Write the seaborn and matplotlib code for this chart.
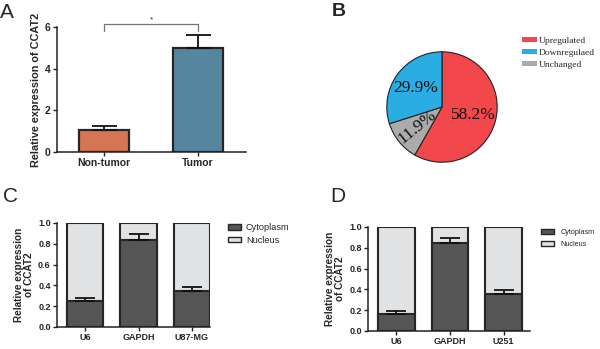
import numpy as np
import pandas as pd
import matplotlib
matplotlib.use("Agg")
import matplotlib.pyplot as plt
import seaborn as sns
from matplotlib.patches import Patch

sns.set_theme(style="ticks")
plt.rcParams['font.family'] = ['Liberation Sans', 'DejaVu Sans']

# ---- data ----
a_groups = ["Non-tumor", "Tumor"]
a_values = [1.08, 5.0]
a_errors = [0.15, 0.6]
a_colors = ["#EC6A3E", "#4A88AB"]

b_labels = ["Upregulated", "Unchanged", "Downregulaed"]
b_values = [58.2, 11.9, 29.9]
b_colors = ["#F2474B", "#ABABAB", "#29ADE3"]
b_legend_order = ["Upregulated", "Downregulaed", "Unchanged"]

c_groups = ["U6", "GAPDH", "U87-MG"]
c_cyto = [0.25, 0.84, 0.345]
c_err = [0.03, 0.05, 0.035]

d_groups = ["U6", "GAPDH", "U251"]
d_cyto = [0.165, 0.85, 0.355]
d_err = [0.025, 0.045, 0.04]

EDGE = "#2a2424"
CYTO = "#555555"
NUC = "#E1E2E4"

fig = plt.figure(figsize=(6.0, 3.49), dpi=100)
W, H = 600, 349


def px_axes(x0, y0, x1, y1):
    return fig.add_axes([x0 / W, 1 - y1 / H, (x1 - x0) / W, (y1 - y0) / H])


def style_axes(ax, tick_size):
    sns.despine(ax=ax)
    for s in ["left", "bottom"]:
        ax.spines[s].set_linewidth(1.1)
        ax.spines[s].set_color("#222222")
    ax.tick_params(axis="both", width=1.0, length=3, color="#222222",
                   labelsize=tick_size, pad=1.5)
    for lab in ax.get_xticklabels() + ax.get_yticklabels():
        lab.set_fontweight("bold")
    ax.set_xlabel("")


# ---- Panel A ----
axA = px_axes(57, 27, 246, 152)
dfA = pd.DataFrame({"group": a_groups, "value": a_values})
sns.barplot(data=dfA, x="group", y="value", hue="group", palette=a_colors,
            order=a_groups, width=0.53, edgecolor=EDGE, linewidth=1.6,
            legend=False, ax=axA, errorbar=None)
for i, (v, e) in enumerate(zip(a_values, a_errors)):
    axA.errorbar(i, v, yerr=[[0], [e]], fmt="none", ecolor="#111111",
                 elinewidth=1.3, capsize=9, capthick=1.3)
axA.set_ylim(0, 6)
axA.set_yticks([0, 2, 4, 6])
axA.set_xlim(-0.5, 1.51)
axA.set_ylabel("Relative expression of CCAT2", fontsize=7.8,
               fontweight="bold", labelpad=3)
style_axes(axA, 7.5)
# significance bracket
axA.plot([0, 0, 1, 1], [5.8, 6.14, 6.14, 5.8], color="#777777", lw=0.9,
         clip_on=False)
axA.text(0.5, 6.18, "*", ha="center", va="bottom", fontsize=6, color="#333333")
fig.text(0 / W, 1 - 3 / H, "A", fontsize=15, va="top", ha="left")

# ---- Panel B ----
axB = px_axes(373, 38, 511, 176)
wedges, texts, autotexts = axB.pie(
    b_values, colors=b_colors, startangle=90, counterclock=False,
    autopct="%.1f%%", pctdistance=0.58,
    wedgeprops=dict(edgecolor="#222222", linewidth=0.8),
    textprops=dict(fontsize=12.5, family=["Liberation Serif", "DejaVu Serif"],
                   color="#111111"))
axB.set_aspect("equal")
for w, t in zip(wedges, autotexts):
    if w.theta2 - w.theta1 < 60:
        mid = (w.theta1 + w.theta2) / 2.0
        t.set_rotation(mid + 180)
        t.set_rotation_mode("anchor")
        t.set_ha("center")
        t.set_va("center")
handles = [Patch(facecolor=b_colors[b_labels.index(n)], edgecolor="none")
           for n in b_legend_order]
fig.legend(handles, b_legend_order, loc="upper left",
           bbox_to_anchor=(522 / W, 1 - 37 / H), frameon=False,
           prop=dict(family=["Liberation Serif", "DejaVu Serif"], size=6.8),
           handlelength=1.6, handleheight=0.45, handletextpad=0.2,
           labelspacing=0.4, borderaxespad=0, borderpad=0)
fig.text(332 / W, 1 - 3 / H, "B", fontsize=14, va="top", ha="left",
         fontweight="bold")


# ---- Panels C and D ----
def stacked(ax, groups, cyto, err, right):
    df = pd.DataFrame({"group": groups, "total": [1.0] * len(groups),
                       "cyto": cyto})
    sns.barplot(data=df, x="group", y="total", order=groups, color=NUC,
                width=0.68, edgecolor=EDGE, linewidth=1.5, ax=ax,
                errorbar=None, saturation=1)
    sns.barplot(data=df, x="group", y="cyto", order=groups, color=CYTO,
                width=0.68, edgecolor=EDGE, linewidth=1.5, ax=ax,
                errorbar=None, saturation=1)
    for i, (v, e) in enumerate(zip(cyto, err)):
        ax.errorbar(i, v, yerr=[[0], [e]], fmt="none", ecolor="#111111",
                    elinewidth=1.3, capsize=7.5, capthick=1.3, zorder=5)
    ax.set_ylim(0, 1.0)
    ax.set_yticks([0, 0.2, 0.4, 0.6, 0.8, 1.0])
    ax.set_yticklabels(["0.0", "0.2", "0.4", "0.6", "0.8", "1.0"])
    ax.set_xlim(-0.53, right)
    ax.set_ylabel("Relative expression\nof CCAT2", fontsize=7.2,
                  fontweight="bold", labelpad=3, linespacing=1.0)
    style_axes(ax, 6.5)


axC = px_axes(57, 223, 210, 327)
stacked(axC, c_groups, c_cyto, c_err, 2.34)
leg_handles = [Patch(facecolor=CYTO, edgecolor=EDGE, linewidth=1.0),
               Patch(facecolor=NUC, edgecolor=EDGE, linewidth=1.0)]
fig.legend(leg_handles, ["Cytoplasm", "Nucleus"], loc="upper left",
           bbox_to_anchor=(228 / W, 1 - 223 / H), frameon=False,
           fontsize=6.6, handlelength=1.45, handleheight=0.55,
           handletextpad=0.5, labelspacing=0.42, borderaxespad=0,
           borderpad=0)
fig.text(3 / W, 1 - 187 / H, "C", fontsize=15, va="top", ha="left")

axD = px_axes(368, 227, 530, 331)
stacked(axD, d_groups, d_cyto, d_err, 2.49)
fig.legend(leg_handles, ["Cytoplasm", "Nucleus"], loc="upper left",
           bbox_to_anchor=(541 / W, 1 - 229 / H), frameon=False,
           fontsize=5.2, handlelength=1.85, handleheight=0.7,
           handletextpad=0.8, labelspacing=0.65, borderaxespad=0,
           borderpad=0)
fig.text(330 / W, 1 - 187 / H, "D", fontsize=15, va="top", ha="left")

fig.savefig("out.png", dpi=100)
